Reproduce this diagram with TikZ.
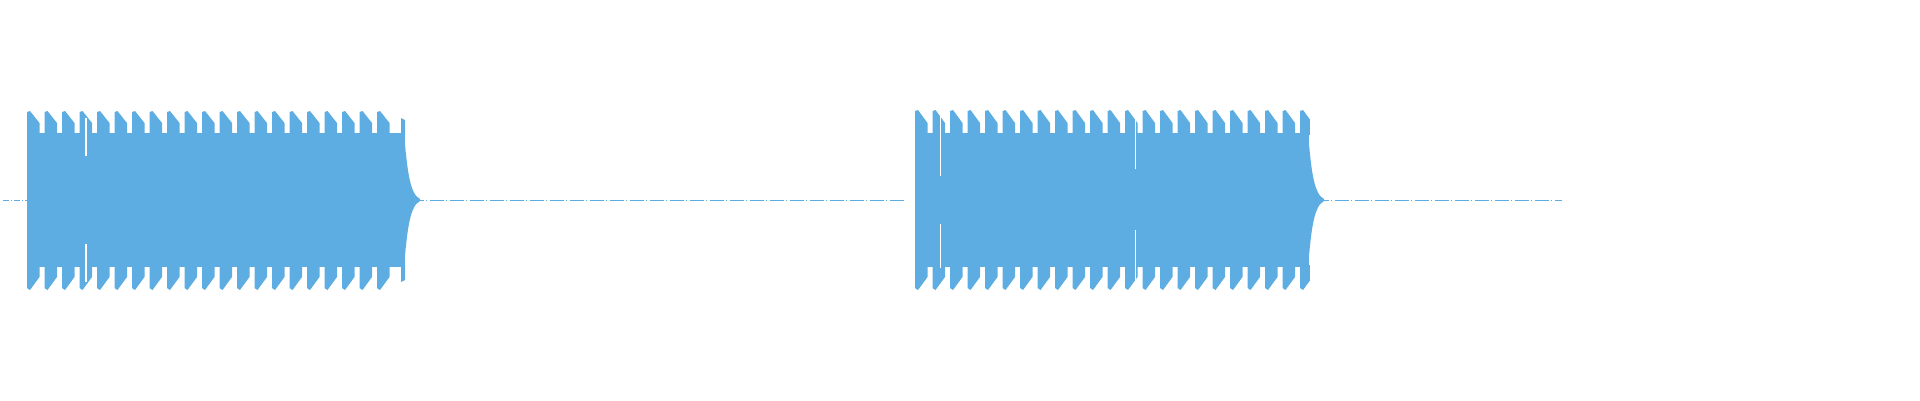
\documentclass[tikz,border=0pt]{standalone}
\definecolor{wave}{HTML}{5DACE2}
\begin{document}
\begin{tikzpicture}[x=1pt,y=-1pt,wv/.style={fill=wave,draw=none}]
\useasboundingbox (0,0) rectangle (1920,400);
% baseline
\draw[wave,line width=0.7pt,dash pattern=on 6pt off 2pt on 1pt off 2pt] (3,200) -- (27,200);
\draw[wave,line width=0.7pt,dash pattern=on 14pt off 2pt on 1pt off 3pt] (410,200) -- (905,200);
\draw[wave,line width=0.7pt,dash pattern=on 14pt off 2pt on 1pt off 3pt] (1315,200) -- (1562,200);
% block 1
\fill[wv] (27,133) rectangle (405,267);
\foreach \k in {0,...,20}{
  \pgfmathsetmacro\xa{27+17.5*\k}
  \fill[wv] (\xa,135) -- (\xa,112) -- (\xa+3,111) -- (\xa+12.5,123) -- (\xa+12.5,135) -- cycle;
  \fill[wv] (\xa,265) -- (\xa,288) -- (\xa+3,290) -- (\xa+12.5,277) -- (\xa+12.5,265) -- cycle;
}
\fill[wv] (401,118) -- (405,120) -- (405,135) -- (401,135) -- cycle;
\fill[wv] (401,282) -- (405,280) -- (405,265) -- (401,265) -- cycle;
\fill[wv] (404,134) .. controls (407,165) and (409,194) .. (420,199) -- (420,201) .. controls (409,206) and (407,235) .. (404,266) -- cycle;
\fill[white] (85,118) rectangle (86.5,156);
\fill[white] (85,244) rectangle (86.5,282);
% block 2
\fill[wv] (915,133) rectangle (1309,267);
\foreach \k in {0,...,22}{
  \pgfmathsetmacro\xa{915+17.5*\k}
  \fill[wv] (\xa,135) -- (\xa,111) -- (\xa+3,110) -- (\xa+12.5,123) -- (\xa+12.5,135) -- cycle;
  \fill[wv] (\xa,265) -- (\xa,288) -- (\xa+3,290) -- (\xa+12.5,277) -- (\xa+12.5,265) -- cycle;
}
\fill[white] (1309.5,100) rectangle (1330,140);
\fill[white] (1309.5,260) rectangle (1330,300);
\fill[wv] (1308,134) .. controls (1311,165) and (1313,194) .. (1324,199) -- (1324,201) .. controls (1313,206) and (1311,235) .. (1308,266) -- cycle;
\fill[white] (939.5,110) rectangle (940.8,176);
\fill[white] (939.5,224) rectangle (940.8,268);
\fill[white] (1135,112) rectangle (1136.3,169);
\fill[white] (1135,230) rectangle (1136.3,285);
\end{tikzpicture}
\end{document}
